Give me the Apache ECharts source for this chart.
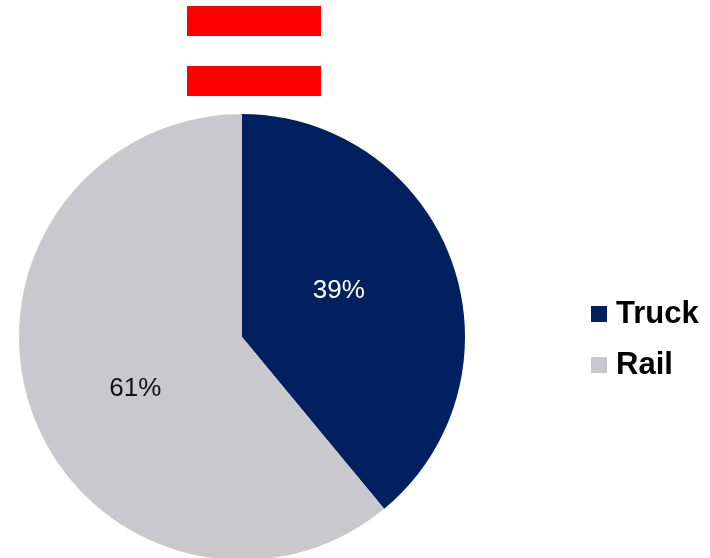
<!DOCTYPE html>
<html>
<head>
<meta charset="utf-8">
<script src="https://cdn.jsdelivr.net/npm/echarts@6/dist/echarts.min.js"></script>
<style>
  html, body { margin: 0; padding: 0; background: #fff; }
  #chart { width: 710px; height: 558px; }
</style>
</head>
<body>
<div id="chart"></div>
<script>
const categories = ["Truck", "Rail"];
const shares = [39, 61];
const sliceColors = ["#002060", "#C9C8CD"];
const labelColors = ["#ffffff", "#111111"];
const labelOffsets = [[-11, -7], [1, 13]];

const chart = echarts.init(document.getElementById("chart"));

const option = {
  animation: false,
  backgroundColor: "#fff",
  color: sliceColors,
  graphic: [
    { type: "rect", shape: { x: 187, y: 6, width: 134, height: 30 }, style: { fill: "#FF0000" } },
    { type: "rect", shape: { x: 187, y: 66, width: 134, height: 30 }, style: { fill: "#FF0000" } }
  ],
  legend: {
    orient: "vertical",
    left: 586,
    top: 293,
    icon: "rect",
    itemWidth: 16,
    itemHeight: 16,
    itemGap: 19,
    data: categories,
    textStyle: {
      fontFamily: "Liberation Sans, Arial, sans-serif",
      fontSize: 31,
      fontWeight: "bold",
      color: "#000",
      lineHeight: 32,
      padding: [0, 0, 0, 4]
    }
  },
  series: [
    {
      type: "pie",
      center: [242, 337],
      radius: [0, 223],
      startAngle: 90,
      clockwise: true,
      label: {
        show: true,
        position: "inside",
        formatter: "{d}%",
        fontFamily: "Liberation Sans, Arial, sans-serif",
        fontSize: 26
      },
      labelLine: { show: false },
      emphasis: { disabled: true },
      data: categories.map((name, i) => ({
        name,
        value: shares[i],
        label: { color: labelColors[i], offset: labelOffsets[i] }
      }))
    }
  ]
};

chart.setOption(option);
</script>
</body>
</html>
